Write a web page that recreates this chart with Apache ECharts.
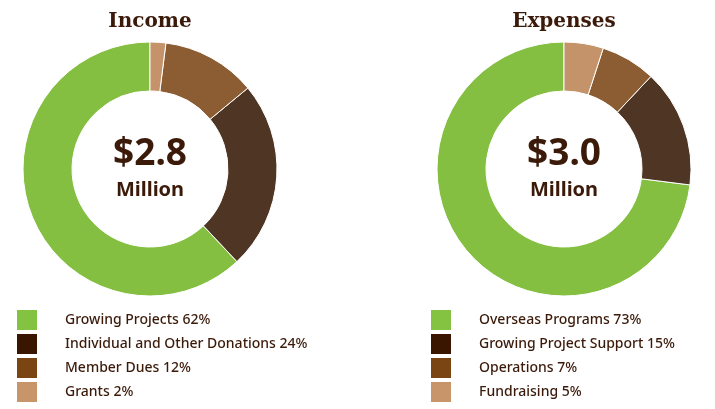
<!DOCTYPE html>
<html>
<head>
<meta charset="utf-8">
<script src="https://cdn.jsdelivr.net/npm/echarts@6/dist/echarts.min.js"></script>
<style>
    html, body {margin: 0; padding: 0; background: #fff;}
    #chart {width: 715px; height: 409px;}
</style>
</head>
<body>
<div id="chart"></div>
<script>
// 收入
var incomeNames = ['Growing Projects', 'Individual and Other Donations', 'Member Dues', 'Grants'];
var incomeValues = [62, 24, 12, 2];
var incomeTotal = '$2.8';
// 支出
var expenseNames = ['Overseas Programs', 'Growing Project Support', 'Operations', 'Fundraising'];
var expenseValues = [73, 15, 7, 5];
var expenseTotal = '$3.0';

var sliceColors = ['#84BF41', '#4F3524', '#8C5C32', '#C4936A'];
var legendColors = ['#84C341', '#3A1500', '#7A4413', '#C8956A'];
var textColor = '#3B1A0A';
var sansFont = '"Noto Sans", sans-serif';

function pieData(names, values) {
    return names.map(function (name, i) {
        return {name: name, value: values[i], itemStyle: {color: sliceColors[i]}};
    });
}
function legendData(names) {
    return names.map(function (name, i) {
        return {name: name, icon: 'rect', itemStyle: {color: legendColors[i], borderWidth: 0}};
    });
}
function lookup(names, values) {
    var m = {};
    names.forEach(function (n, i) { m[n] = values[i]; });
    return m;
}
var incomeMap = lookup(incomeNames, incomeValues);
var expenseMap = lookup(expenseNames, expenseValues);

function makeLegend(names, map, left) {
    return {
        orient: 'vertical',
        left: left,
        top: 310,
        height: 140,
        padding: 0,
        itemWidth: 20,
        itemHeight: 20,
        itemGap: 4,
        selectedMode: false,
        data: legendData(names),
        formatter: function (name) { return name + ' ' + map[name] + '%'; },
        textStyle: {
            color: textColor,
            fontFamily: sansFont,
            fontSize: 14,
            fontWeight: 500,
            lineHeight: 18,
            padding: [0, 0, 0, 23]
        }
    };
}
function makePie(names, values, cx) {
    return {
        type: 'pie',
        center: [cx, 169],
        radius: [78, 127],
        startAngle: 90,
        clockwise: false,
        silent: true,
        label: {show: false},
        labelLine: {show: false},
        itemStyle: {borderColor: '#fff', borderWidth: 1},
        data: pieData(names, values)
    };
}
function makeTitle(text, x, y, size, font) {
    return {
        text: text,
        left: x,
        top: y,
        textAlign: 'center',
        padding: 0,
        textStyle: {color: textColor, fontFamily: font, fontSize: size, fontWeight: 'bold'}
    };
}

var myChart = echarts.init(document.getElementById('chart'));
myChart.setOption({
    animation: false,
    title: [
        makeTitle('Income', 150, 12, 20, '"DejaVu Serif", serif'),
        makeTitle('Expenses', 564, 12, 20, '"DejaVu Serif", serif'),
        makeTitle(incomeTotal, 150, 136, 37, sansFont),
        makeTitle('Million', 150, 180, 20, sansFont),
        makeTitle(expenseTotal, 564, 136, 37, sansFont),
        makeTitle('Million', 564, 180, 20, sansFont)
    ],
    legend: [
        makeLegend(incomeNames, incomeMap, 17),
        makeLegend(expenseNames, expenseMap, 431)
    ],
    series: [
        makePie(incomeNames, incomeValues, 150),
        makePie(expenseNames, expenseValues, 564)
    ]
});
</script>
</body>
</html>
